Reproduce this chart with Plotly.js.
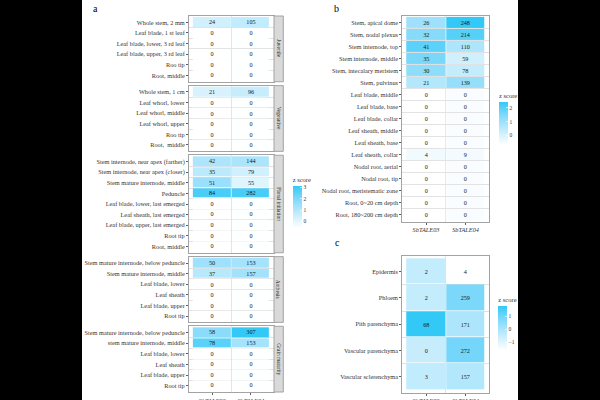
<!DOCTYPE html>
<html>
<head>
<meta charset="utf-8">
<script src="https://cdn.plot.ly/plotly-3.0.1.min.js"></script>
<style>
  html, body { margin:0; padding:0; background:#000; width:600px; height:400px; overflow:hidden; }
  #plot { position:absolute; left:82px; top:0; width:436px; height:400px; background:#fff; }
</style>
</head>
<body>
<div id="plot"></div>
<script>
// ---------- DATA ----------
const genes = ["SbTALE03", "SbTALE04"];
const facetNames = ["Juvenile", "Vegetative", "Floral initiation", "Anthesis", "Grain maturity"];

const juvenileTissues = ["Whole stem, 2 mm", "Leaf blade, 1 st leaf", "Leaf blade, lower, 3 rd leaf", "Leaf blade, upper, 3 rd leaf", "Roo tip", "Root, middle"];
const juvenileTALE03 = [24, 0, 0, 0, 0, 0];
const juvenileTALE04 = [105, 0, 0, 0, 0, 0];

const vegetativeTissues = ["Whole stem, 1 cm", "Leaf whorl, lower", "Leaf whorl, middle", "Leaf whorl, upper", "Roo tip", "Root,  middle"];
const vegetativeTALE03 = [21, 0, 0, 0, 0, 0];
const vegetativeTALE04 = [96, 0, 0, 0, 0, 0];

const floralTissues = ["Stem internode, near apex (farther)", "Stem internode, near apex (closer)", "Stem mature internode, middle", "Peduncle", "Leaf blade, lower, last emerged", "Leaf sheath, last emerged", "Leaf blade, upper, last emerged", "Root tip", "Root, middle"];
const floralTALE03 = [42, 35, 51, 84, 0, 0, 0, 0, 0];
const floralTALE04 = [144, 79, 55, 282, 0, 0, 0, 0, 0];

const anthesisTissues = ["Stem mature internode, below peduncle", "Stem mature internode, middle", "Leaf blade, lower", "Leaf sheath", "Leaf blade, upper", "Root tip"];
const anthesisTALE03 = [50, 37, 0, 0, 0, 0];
const anthesisTALE04 = [153, 157, 0, 0, 0, 0];

const grainTissues = ["Stem mature internode, below peduncle", "stem mature internode, middle", "Leaf blade, lower", "Leaf sheath", "Leaf blade, upper", "Root tip"];
const grainTALE03 = [58, 78, 0, 0, 0, 0];
const grainTALE04 = [307, 153, 0, 0, 0, 0];

const bTissues = ["Stem, apical dome", "Stem, nodal plexus", "Stem internode, top", "Stem internode, middle", "Stem, intecalary meristem", "Stem, pulvinus", "Leaf blade, middle", "Leaf blade, base", "Leaf blade, collar", "Leaf sheath, middle", "Leaf sheath, base", "Leaf sheath, collar", "Nodal root, aerial", "Nodal root, tip", "Nodal root, meristematic zone", "Root, 0~20 cm depth", "Root, 180~200 cm depth"];
const bTALE03 = [26, 32, 41, 35, 30, 21, 0, 0, 0, 0, 0, 4, 0, 0, 0, 0, 0];
const bTALE04 = [248, 214, 110, 59, 78, 139, 0, 0, 0, 0, 0, 9, 0, 0, 0, 0, 0];

const cTissues = ["Epidermis", "Phloem", "Pith parenchyma", "Vascular parenchyma", "Vascular sclerenchyma"];
const cTALE03 = [2, 2, 68, 0, 3];
const cTALE04 = [4, 259, 171, 272, 157];

// ---------- HELPERS ----------
const W = 436, H = 400, OX = 82;
const px = x => (x - OX) / W;
const py = y => 1 - y / H;
function zscore(arr) {
  const n = arr.length;
  const m = arr.reduce((a, b) => a + b, 0) / n;
  const sd = Math.sqrt(arr.reduce((a, b) => a + (b - m) * (b - m), 0) / (n - 1));
  return arr.map(v => (v - m) / sd);
}
const FONT = "Liberation Serif, Times New Roman, serif";
const colorscale = [[0, "#ffffff"], [0.25, "#d3f1fd"], [0.5, "#a5e3fc"], [0.75, "#72d6fa"], [1, "#33c9f7"]];
const borderColor = "#a3a3a3";
const gridColor = "#e2e2e2";

const traces = [];
const layout = {
  width: W, height: H,
  margin: {l: 0, r: 0, t: 0, b: 0},
  paper_bgcolor: "#ffffff", plot_bgcolor: "#ffffff",
  font: {family: FONT, color: "#333333", size: 6.3},
  showlegend: false,
  shapes: [], annotations: []
};

function addPanel(idx, tissues, v03, v04, z03, z04, xdom, ydom, opts) {
  const n = tissues.length;
  const yi = tissues.map((_, i) => i);
  const xs = genes.map((_, j) => j);
  const sfx = idx === 1 ? "" : String(idx);
  traces.push({
    type: "heatmap",
    x: xs, y: yi,
    z: yi.map(i => [z03[i], z04[i]]),
    text: yi.map(i => [String(v03[i]), String(v04[i])]),
    texttemplate: "%{text}",
    textfont: {family: FONT, size: 6.2, color: "#1a1a1a"},
    xgap: 1, ygap: 1,
    coloraxis: opts.coloraxis,
    xaxis: "x" + sfx, yaxis: "y" + sfx,
    hoverinfo: "skip"
  });
  const bounds = yi.slice(0, n - 1).map(i => i + 0.5);
  layout["xaxis" + sfx] = {
    domain: xdom, anchor: "y" + sfx,
    range: [-0.6, 1.6], tickmode: "array", tickvals: xs, ticktext: genes,
    showticklabels: !!opts.xlabels, ticks: opts.xlabels ? "outside" : "",
    ticklen: 2, tickwidth: 0.8, tickcolor: "#333",
    tickfont: {family: FONT, size: 6.3, color: "#333", style: "italic"},
    showgrid: false, zeroline: false,
    showline: true, mirror: true, linecolor: borderColor, linewidth: 1,
    minor: {tickmode: "array", tickvals: [0.5], showgrid: true, gridcolor: gridColor, gridwidth: 1, ticks: ""},
    fixedrange: true
  };
  layout["yaxis" + sfx] = {
    domain: ydom, anchor: "x" + sfx,
    range: [n - 0.4, -0.6], tickmode: "array", tickvals: yi, ticktext: tissues,
    ticks: "outside", ticklen: 2, tickwidth: 0.8, tickcolor: "#333",
    tickfont: {family: FONT, size: 6.3, color: "#333"},
    showgrid: false, zeroline: false,
    showline: true, mirror: true, linecolor: borderColor, linewidth: 1,
    minor: {tickmode: "array", tickvals: bounds, showgrid: true, gridcolor: gridColor, gridwidth: 1, ticks: ""},
    fixedrange: true
  };
}

// ---------- PANEL A ----------
const aFacets = [
  [juvenileTissues, juvenileTALE03, juvenileTALE04],
  [vegetativeTissues, vegetativeTALE03, vegetativeTALE04],
  [floralTissues, floralTALE03, floralTALE04],
  [anthesisTissues, anthesisTALE03, anthesisTALE04],
  [grainTissues, grainTALE03, grainTALE04]
];
const aZ03 = zscore([].concat(...aFacets.map(f => f[1])));
const aZ04 = zscore([].concat(...aFacets.map(f => f[2])));
let rowOffset = 0, facetTop = 16;
const rowH = 10.6, facetGap = 3.9;
aFacets.forEach((f, k) => {
  const n = f[0].length;
  const y0 = facetTop, y1 = facetTop + (n + 0.2) * rowH;
  addPanel(k + 1, f[0], f[1], f[2], aZ03.slice(rowOffset, rowOffset + n), aZ04.slice(rowOffset, rowOffset + n),
    [px(189), px(274)], [py(y1), py(y0)], {coloraxis: "coloraxis", xlabels: k === aFacets.length - 1});
  layout.shapes.push({type: "rect", xref: "paper", yref: "paper",
    x0: px(274), x1: px(283.3), y0: py(y1), y1: py(y0),
    fillcolor: "#d9d9d9", line: {color: borderColor, width: 1}});
  layout.annotations.push({xref: "paper", yref: "paper", x: px(278.8), y: py((y0 + y1) / 2),
    text: facetNames[k], textangle: 90, showarrow: false, xanchor: "center", yanchor: "middle",
    font: {family: FONT, size: 5.4, color: "#1a1a1a"}});
  rowOffset += n; facetTop = y1 + facetGap;
});

// ---------- PANEL B ----------
addPanel(6, bTissues, bTALE03, bTALE04, zscore(bTALE03), zscore(bTALE04),
  [px(402.3), px(489.3)], [py(221.7), py(15.7)], {coloraxis: "coloraxis2", xlabels: true});

// ---------- PANEL C ----------
addPanel(7, cTissues, cTALE03, cTALE04, zscore(cTALE03), zscore(cTALE04),
  [px(402.3), px(489.3)], [py(392.7), py(255.7)], {coloraxis: "coloraxis3", xlabels: true});

function cbar(x, ytop, len, ticks) {
  return {
    title: {text: "z score", side: "top", font: {family: FONT, size: 6.5, color: "#333"}},
    x: px(x), xanchor: "left", xpad: 0,
    y: py(ytop), yanchor: "top", ypad: 0,
    lenmode: "pixels", len: len, thicknessmode: "pixels", thickness: 9.3,
    tickmode: "array", tickvals: ticks,
    tickfont: {family: FONT, size: 5.5, color: "#333"},
    ticks: "inside", ticklen: 2, tickcolor: "#ffffff", tickwidth: 0.6,
    outlinewidth: 0
  };
}
layout.coloraxis = {colorscale: colorscale, colorbar: cbar(292.7, 174, 54, [0, 1, 2, 3])};
layout.coloraxis2 = {colorscale: colorscale, colorbar: cbar(499, 90, 55, [0, 1, 2])};
layout.coloraxis3 = {colorscale: colorscale, colorbar: cbar(498.3, 294, 56, [-1, 0, 1])};

// panel letters
[["a", 95, 8], ["b", 336.7, 8], ["c", 337, 242]].forEach(p => {
  layout.annotations.push({xref: "paper", yref: "paper", x: px(p[1]), y: py(p[2]),
    text: p[0], showarrow: false, xanchor: "center", yanchor: "middle",
    font: {family: FONT, size: 10, color: "#000"}});
});

Plotly.newPlot("plot", traces, layout, {staticPlot: true, displayModeBar: false});
</script>
</body>
</html>
